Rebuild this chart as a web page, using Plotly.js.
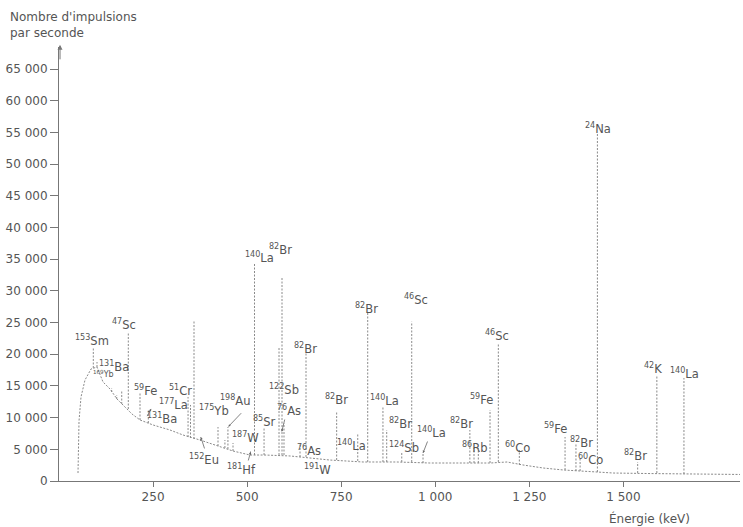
<!DOCTYPE html>
<html>
<head>
<meta charset="utf-8">
<script src="https://cdn.plot.ly/plotly-3.0.1.min.js"></script>
<style>html,body{margin:0;padding:0;background:#fff;} #chart{width:743px;height:527px;}</style>
</head>
<body>
<div id="chart"></div>
<script>
// Continuum (background) of the spectrum: energy (keV) and counts per second
const continuumE = [50.5, 53.2, 58.5, 69.1, 85.1, 101, 117, 135.6, 154.2, 170.1, 194, 215.4, 250, 295, 329.6, 374.8, 420, 462.6, 507.7, 547.5, 614, 720, 808, 898, 986, 1074, 1146, 1191, 1233, 1287, 1340, 1430, 1473, 1563, 1651, 1810];
const continuumC = [1260, 9470, 13260, 15940, 17680, 17990, 15630, 14520, 12940, 12000, 10570, 9630, 8840, 8050, 7260, 6470, 5520, 4730, 4100, 4100, 3950, 3310, 3000, 3000, 2840, 2840, 2840, 3000, 2530, 2050, 1740, 1420, 1260, 1180, 1100, 1030];

// Peaks: energy, continuum level under the peak, peak top
const peakE    = [91.2, 101, 140, 153.4, 166.7, 184.2, 215.3, 237.4, 343, 349.5, 358.8, 376, 422.6, 449, 441, 462.5, 509, 519.6, 545, 584.8, 592.7, 598, 640.6, 656.5, 738, 794, 820.5, 861, 871, 911, 937.5, 967.5, 1092, 1103, 1114.5, 1145.6, 1167.7, 1223.5, 1345, 1374, 1385, 1431, 1538, 1589, 1661];
const peakBase = [17840, 17990, 14050, 12940, 12150, 11360, 9630, 9150, 6940, 6790, 6630, 6310, 5520, 5050, 5210, 4730, 4100, 4100, 4100, 4100, 4100, 4100, 3790, 3790, 3310, 3160, 3000, 3000, 3000, 3000, 3000, 2840, 2840, 2840, 2840, 2840, 3000, 2530, 1740, 1580, 1580, 1420, 1260, 1260, 1100];
const peakTop  = [21150, 18780, 14680, 13570, 14360, 23520, 13890, 11210, 13260, 12000, 25410, 6940, 8520, 8520, 6470, 6000, 4730, 34410, 8520, 21150, 32200, 9150, 6000, 20200, 10890, 7580, 26720, 11680, 8050, 4580, 25140, 4580, 8050, 5210, 5210, 11210, 21780, 4890, 6940, 6000, 3790, 54920, 3000, 16730, 16260];

// Isotope labels (mass number, element)
const labelMass = ['153', '131', '169', '47', '59', '177', '131', '51', '175', '198', '187', '152', '181', '140', '82', '85', '122', '76', '82', '76', '191', '82', '140', '82', '140', '82', '124', '140', '46', '82', '86', '59', '46', '60', '59', '82', '60', '24', '82', '42', '140'];
const labelElem = ['Sm', 'Ba', 'Yb', 'Sc', 'Fe', 'La', 'Ba', 'Cr', 'Yb', 'Au', 'W', 'Eu', 'Hf', 'La', 'Br', 'Sr', 'Sb', 'As', 'Br', 'As', 'W', 'Br', 'La', 'Br', 'La', 'Br', 'Sb', 'La', 'Sc', 'Br', 'Rb', 'Fe', 'Sc', 'Co', 'Fe', 'Br', 'Co', 'Na', 'Br', 'K', 'La'];

// Axis ticks
const yTickVals = [0, 5000, 10000, 15000, 20000, 25000, 30000, 35000, 40000, 45000, 50000, 55000, 60000, 65000];
const yTickText = ['0', '5 000', '10 000', '15 000', '20 000', '25 000', '30 000', '35 000', '40 000', '45 000', '50 000', '55 000', '60 000', '65 000'];
const xTickVals = [250, 500, 750, 1000, 1250, 1500];
const xTickText = ['250', '500', '750', '1 000', '1 250', '1 500'];

// ---- layout placement of labels (data coordinates of text left/middle) ----
const labelPosX = [37, 101, 86, 135.6, 194, 260.5, 228.6, 287, 367, 423, 454.5, 340, 441, 489, 553, 510, 553, 574, 619, 627, 646, 702, 734, 781, 821, 872, 872, 946, 912, 1034, 1066, 1087, 1127, 1180, 1284, 1353, 1374, 1393, 1496, 1550, 1619];
const labelPosY = [22250, 18150, 16900, 24780, 14360, 12150, 9940, 14360, 11200, 12780, 6940, 3470, 1890, 35350, 36600, 9470, 14520, 11200, 20990, 4890, 1890, 12940, 5680, 27150, 12630, 9150, 5210, 7580, 28720, 9150, 5210, 12940, 22890, 5210, 8210, 6000, 3470, 55560, 3950, 17830, 16890];
// arrows: [tipE, tipC, tailE, tailC]
const arrows = [
  [245, 11400, 232, 10000],
  [450, 8570, 488, 10940],
  [377, 6940, 388, 4900],
  [509.5, 4620, 502, 3000],
  [592, 7780, 601, 9940],
  [967.5, 4420, 981, 6470]
];

const lineColor = '#8a8a8a';
const textColor = '#555';
const fontFam = 'DejaVu Sans, Liberation Sans, sans-serif';

// build peak segments
const px = [], py = [];
for (let i = 0; i < peakE.length; i++) {
  px.push(peakE[i], peakE[i], null);
  py.push(peakBase[i], peakTop[i], null);
}

const traces = [
  {x: continuumE, y: continuumC, type: 'scatter', mode: 'lines',
   line: {color: lineColor, width: 1, dash: '2px,1.5px'}, hoverinfo: 'skip'},
  {x: px, y: py, type: 'scatter', mode: 'lines', connectgaps: false,
   line: {color: lineColor, width: 1, dash: '2px,1.5px'}, hoverinfo: 'skip'}
];

const annotations = [];
for (let i = 0; i < labelMass.length; i++) {
  const small = labelElem[i] === 'Yb' && labelMass[i] === '169';
  annotations.push({
    x: labelPosX[i], y: labelPosY[i], xref: 'x', yref: 'y',
    text: '<sup>' + labelMass[i] + '</sup>' + labelElem[i],
    showarrow: false, xanchor: 'left', yanchor: 'middle',
    font: {family: fontFam, size: small ? 8 : 11.5, color: textColor}
  });
}
arrows.forEach(a => {
  annotations.push({
    x: a[0], y: a[1], ax: a[2], ay: a[3], axref: 'x', ayref: 'y', xref: 'x', yref: 'y',
    text: '', showarrow: true, arrowhead: 2, arrowsize: 0.6, arrowwidth: 0.8, arrowcolor: '#666'
  });
});
// axis arrow at the top of y axis
annotations.push({
  x: 0.0015, y: 1.005, xref: 'paper', yref: 'paper', ax: 0, ay: 16, text: '', showarrow: true,
  arrowhead: 2, arrowsize: 1, arrowwidth: 1, arrowcolor: '#777'
});
// axis titles
annotations.push({
  x: -0.075, y: 1.09, xref: 'paper', yref: 'paper', xanchor: 'left', yanchor: 'top',
  text: "Nombre d'impulsions<br>par seconde", align: 'left', showarrow: false,
  font: {family: fontFam, size: 12, color: textColor}
});
annotations.push({
  x: 0.805, y: -0.065, xref: 'paper', yref: 'paper', xanchor: 'left', yanchor: 'top',
  text: 'Énergie (keV)', showarrow: false,
  font: {family: fontFam, size: 12, color: textColor}
});

const layout = {
  width: 743, height: 527,
  margin: {l: 59, r: 3, t: 47, b: 46},
  paper_bgcolor: '#fff', plot_bgcolor: '#fff',
  showlegend: false,
  xaxis: {
    range: [0, 1810], tickvals: xTickVals, ticktext: xTickText,
    showgrid: false, zeroline: false, showline: true, linecolor: '#777', linewidth: 1,
    ticks: 'outside', ticklen: 5, tickcolor: '#777',
    tickfont: {family: fontFam, size: 12, color: textColor}
  },
  yaxis: {
    range: [0, 68500], tickvals: yTickVals, ticktext: yTickText,
    showgrid: false, zeroline: false, showline: true, linecolor: '#777', linewidth: 1,
    ticks: 'outside', ticklen: 8, tickcolor: '#777',
    tickfont: {family: fontFam, size: 12, color: textColor}
  },
  annotations: annotations
};

Plotly.newPlot('chart', traces, layout, {displayModeBar: false, staticPlot: true});
</script>
</body>
</html>
